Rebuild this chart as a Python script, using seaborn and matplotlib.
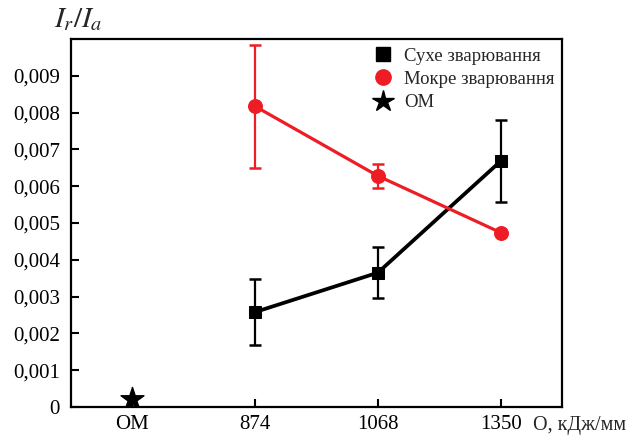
import matplotlib
matplotlib.use("Agg")
import matplotlib.pyplot as plt
from matplotlib.lines import Line2D
import seaborn as sns
import numpy as np
import pandas as pd

categories = ["OM", "874", "1068", "1350"]
dry_x = ["874", "1068", "1350"]
dry_y = [0.00258, 0.00365, 0.00668]
dry_err = [0.00090, 0.00070, 0.00112]
wet_x = ["874", "1068", "1350"]
wet_y = [0.00817, 0.00628, 0.00474]
wet_err = [0.00168, 0.00032, 0.0]
om_y = [0.00022]
yticks = [0, 0.001, 0.002, 0.003, 0.004, 0.005, 0.006, 0.007, 0.008, 0.009]
ytick_labels = ["0", "0,001", "0,002", "0,003", "0,004", "0,005", "0,006", "0,007", "0,008", "0,009"]

sns.set_theme(style="ticks")
plt.rcParams["font.family"] = ["Liberation Serif", "DejaVu Serif"]
plt.rcParams["mathtext.fontset"] = "stix"

fig = plt.figure(figsize=(6.33, 4.36), dpi=100)
ax = fig.add_axes([71/633, 1-407/436, (562-71)/633, (407-39)/436])

pos = {c: i for i, c in enumerate(categories)}
dry = pd.DataFrame({"x": [pos[c] for c in dry_x], "y": dry_y, "e": dry_err})
wet = pd.DataFrame({"x": [pos[c] for c in wet_x], "y": wet_y, "e": wet_err})

red = "#ee1c25"
ax.errorbar(dry["x"], dry["y"], yerr=dry["e"], fmt="none", ecolor="black",
            elinewidth=1.6, capsize=4, capthick=1.8, zorder=2)
we = wet[wet["e"] > 0]
ax.errorbar(we["x"], we["y"], yerr=we["e"], fmt="none", ecolor=red,
            elinewidth=1.6, capsize=4, capthick=1.8, zorder=2)

sns.lineplot(data=dry, x="x", y="y", ax=ax, color="black", linewidth=2.7,
             marker="s", markersize=9, markeredgecolor="black", zorder=3, legend=False)
sns.lineplot(data=wet, x="x", y="y", ax=ax, color=red, linewidth=2.3,
             marker="o", markersize=10, markeredgecolor=red, zorder=3, legend=False)
ax.scatter([pos["OM"]], om_y, marker="*", s=300, color="black", zorder=4)

ax.set_xlim(-0.5, 3.5)
ax.set_ylim(0, 0.010)
ax.set_xticks(range(len(categories)))
ax.set_xticklabels(categories)
ax.set_yticks(yticks)
ax.set_yticklabels(ytick_labels)
ax.tick_params(direction="in", length=6, width=1.5, labelsize=15, colors="black", pad=8)
ax.tick_params(axis="x", pad=6)
for s in ax.spines.values():
    s.set_linewidth(1.6)
    s.set_color("black")
ax.set_xlabel("")
ax.set_ylabel("")

fig.text(54/633, 1-20/436, r"$I_r/I_a$", fontsize=21, ha="left", va="center")
fig.text(533/633, 1-425/436, "O, кДж/мм", fontsize=14.5, ha="left", va="center")

handles = [
    Line2D([], [], linestyle="none", marker="s", markersize=10, color="black"),
    Line2D([], [], linestyle="none", marker="o", markersize=11, color=red),
    Line2D([], [], linestyle="none", marker="*", markersize=16, color="black"),
]
labels = ["Сухе зварювання", "Мокре зварювання", "ОМ"]
ax.legend(handles, labels, loc="upper left", bbox_to_anchor=(0.60, 1.0), frameon=False,
          fontsize=13.5, handlelength=1.0, handletextpad=0.6, labelspacing=0.33,
          borderaxespad=0.05)

fig.savefig("out.png", dpi=100)
